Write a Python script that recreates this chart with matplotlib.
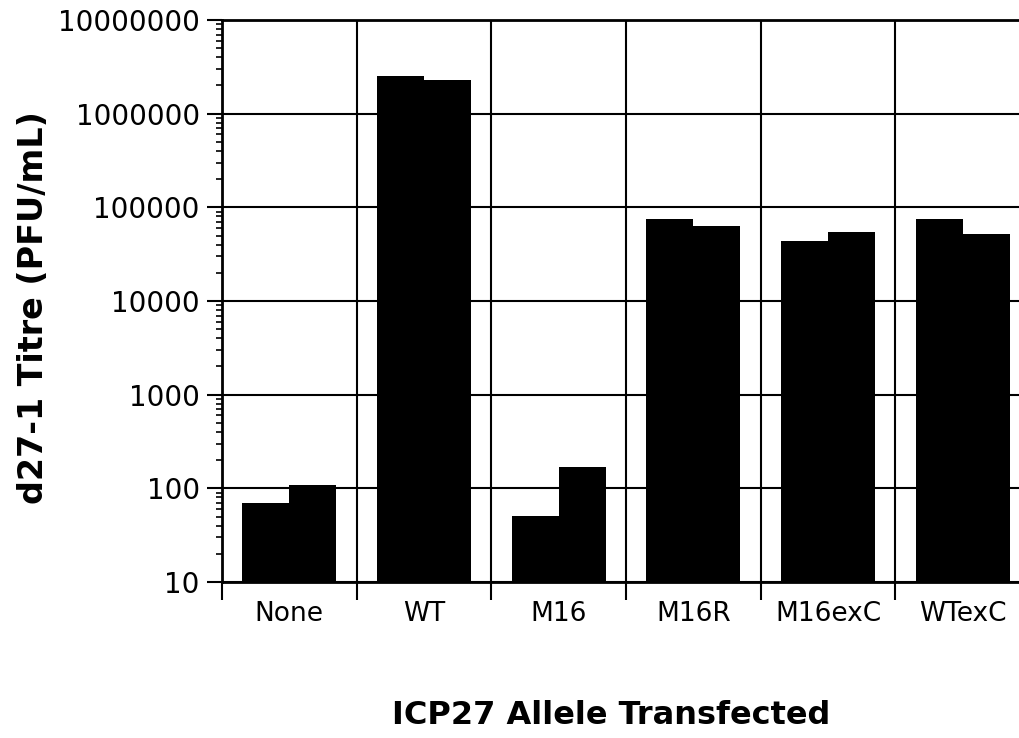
import matplotlib
matplotlib.use("Agg")
import matplotlib.pyplot as plt
import matplotlib.ticker as mticker
import numpy as np

groups = ["None", "WT", "M16", "M16R", "M16exC", "WTexC"]
rep1 = [70, 2500000, 51, 75000, 44000, 75000]
rep2 = [108, 2270000, 169, 63000, 54000, 52000]
yticks = [10, 100, 1000, 10000, 100000, 1000000, 10000000]

plt.rcParams['font.family'] = ['DejaVu Sans']
fig = plt.figure(figsize=(10.19, 7.38), dpi=100)
ax = fig.add_axes([222/1019, 1-582/738, 808/1019, 562/738])

x = np.arange(len(groups)) + 0.5
w = 0.35
ax.bar(x - w/2, rep1, width=w, bottom=0, color='black', zorder=3)
ax.bar(x + w/2, rep2, width=w, bottom=0, color='black', zorder=3)

ax.set_yscale('log')
ax.set_ylim(10, 10000000)
ax.set_xlim(0, len(groups))
ax.set_yticks(yticks)
ax.set_yticklabels([str(v) for v in yticks])
ax.yaxis.set_minor_locator(mticker.LogLocator(base=10, subs=np.arange(2, 10)))
ax.yaxis.set_minor_formatter(mticker.NullFormatter())

ax.set_xticks(np.arange(0, len(groups) + 1))
ax.set_xticklabels([])
ax.set_xticks(x, minor=True)
ax.set_xticklabels(groups, minor=True)

ax.tick_params(axis='y', which='major', direction='out', length=11, width=1.5, labelsize=20, pad=5)
ax.tick_params(axis='y', which='minor', direction='out', length=4.5, width=1.2)
ax.tick_params(axis='x', which='major', direction='out', length=13, width=1.5)
ax.tick_params(axis='x', which='minor', length=0, labelsize=19, pad=14)

ax.grid(True, which='major', color='black', linewidth=1.5)
ax.set_axisbelow(True)
for s in ax.spines.values():
    s.set_linewidth(2)
    s.set_color('black')

ax.set_ylabel('d27-1 Titre (PFU/mL)', fontsize=24, fontweight='bold')
ax.yaxis.set_label_coords(-0.213, 0.489)
fig.text(611/1019, 1-716/738, 'ICP27 Allele Transfected', fontsize=23, fontweight='bold',
         ha='center', va='center')

fig.savefig('out.png', dpi=100)
